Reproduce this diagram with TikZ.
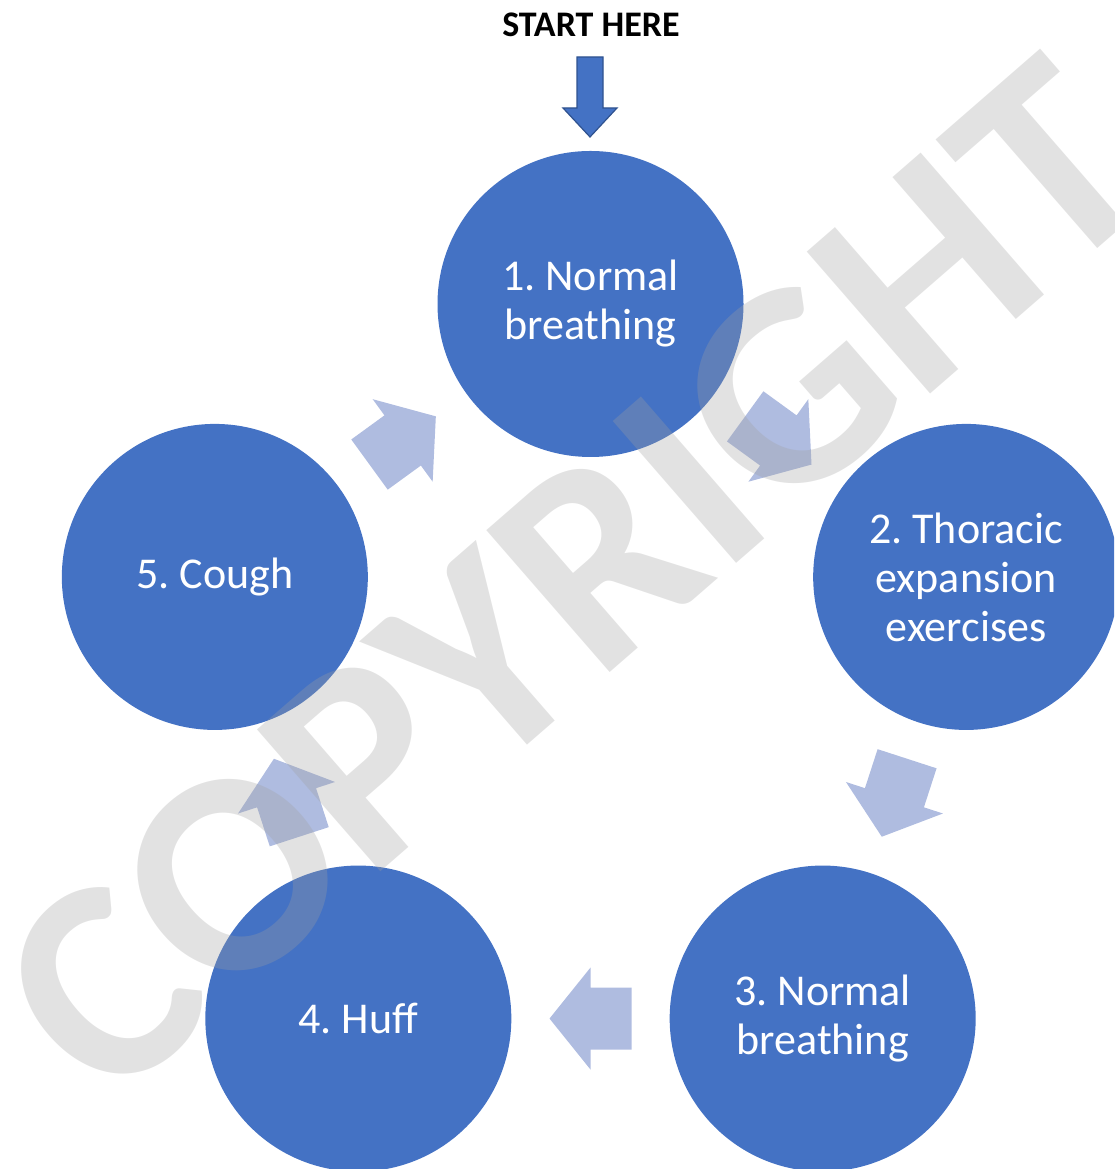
\documentclass[tikz,border=0pt]{standalone}
\usepackage{fontspec}
\setmainfont{Carlito}
\usetikzlibrary{calc}
\definecolor{circleblue}{HTML}{4472C4}
\definecolor{arrowblue}{HTML}{AFBCE0}
\definecolor{edgeblue}{HTML}{2F528F}
\definecolor{markgray}{RGB}{160,160,160}
\frenchspacing

\begin{document}
\begin{tikzpicture}[x=1pt,y=1pt,
    stepcircle/.style={circle,fill=circleblue,minimum size=306pt,inner sep=0pt,
        text=white,align=center,font=\fontsize{44}{49}\selectfont},
    cyclearrow/.style={fill=arrowblue},
    startarrow/.style={fill=circleblue,draw=edgeblue,line width=1.2pt}]
        \path[use as bounding box] (0,0) rectangle (1114,1169);
        \clip (0,0) rectangle (1114,1169);

        \coordinate (o) at (590.5,470);
        \node[stepcircle] (c1) at ($(o)+(90:395)$) {1. Normal\\breathing};
        \node[stepcircle] (c2) at ($(o)+(18:395)$) {2. Thoracic\\expansion\\exercises};
        \node[stepcircle] (c3) at ($(o)+(-54:395)$) {3. Normal\\breathing};
        \node[stepcircle] (c4) at ($(o)+(-126:395)$) {4. Huff};
        \node[stepcircle] (c5) at ($(o)+(162:395)$) {5. Cough};

        \foreach \a/\b/\r in {c1/c2/-36,c2/c3/-108,c3/c4/180,c4/c5/108,c5/c1/36}
            \fill[cyclearrow,shift={($(\a)!0.5!(\b)$)},rotate=\r]
                (-41,31) -- (0,31) -- (0,51) -- (41,0) -- (0,-51) -- (0,-31) -- (-41,-31) -- cycle;

        \node[anchor=base,font=\bfseries\fontsize{36}{40}\selectfont] (start) at (591,1132) {START HERE};
        \draw[startarrow] (577,1112) -- (603,1112) -- (603,1061) -- (617,1061)
            -- (590,1032) -- (563,1061) -- (577,1061) -- cycle;

        \node[rotate=41,anchor=base,text=markgray,text opacity=0.3,
            font=\bfseries\fontsize{290}{300}\selectfont] (mark) at (636,519) {COPYRIGHT};
\end{tikzpicture}
\end{document}
